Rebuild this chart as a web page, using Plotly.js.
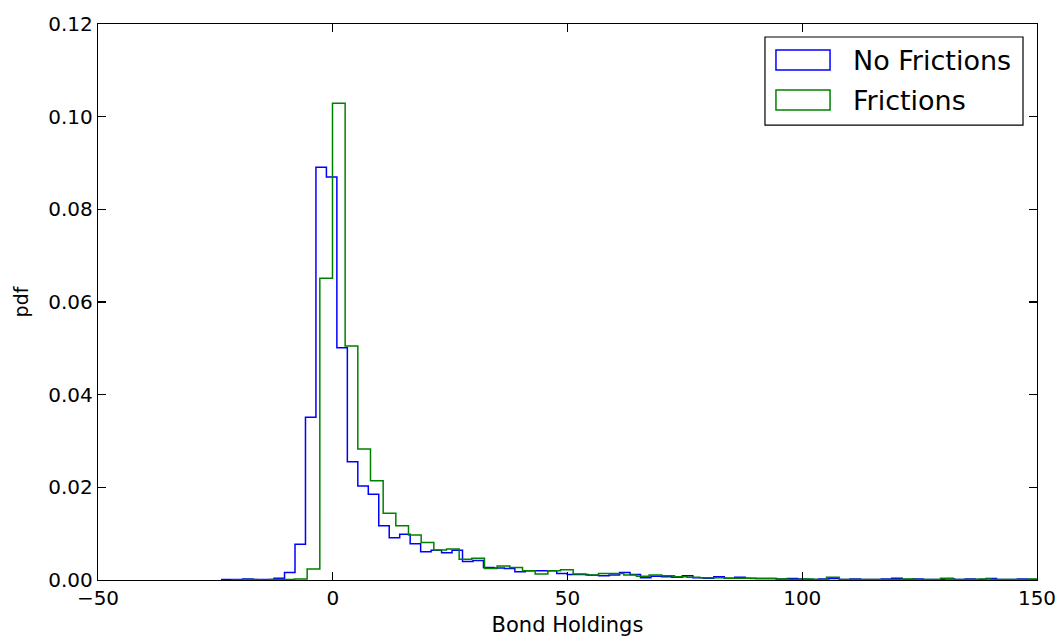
<!DOCTYPE html>
<html>
<head>
<meta charset="utf-8">
<script src="https://cdn.plot.ly/plotly-3.0.1.min.js"></script>
<style>
  html, body { margin: 0; padding: 0; background: #fff; }
  #chart { width: 1062px; height: 642px; }
</style>
</head>
<body>
<div id="chart"></div>
<script>
// Histogram bins (density) of bond holdings, without and with frictions.
const noFrictionsStart = -23.65;
const noFrictionsWidth = 2.23;
const noFrictionsDensity = [
  0.0001, 0.0001, 0.0002, 0.0001, 0.0001, 0.0004, 0.0016, 0.0077, 0.0351, 0.0891,
  0.0870, 0.0501, 0.0255, 0.0203, 0.0185, 0.0117, 0.0091, 0.0099, 0.0078, 0.0061,
  0.0064, 0.0059, 0.0064, 0.0040, 0.0042, 0.0027, 0.0026, 0.0025, 0.0018, 0.0020,
  0.0020, 0.0020, 0.0014, 0.0012, 0.0012, 0.0010, 0.0009, 0.0011, 0.0016, 0.0012,
  0.0005, 0.0008, 0.0007, 0.0006, 0.0009, 0.0005, 0.0004, 0.0007, 0.0004, 0.0006,
  0.0004, 0.0003, 0.0003, 0.0002, 0.0003, 0.0002, 0.0001, 0.0002, 0.0003, 0.0001,
  0.0002, 0.0001, 0.0001, 0.0002, 0.0004, 0.0001, 0.0002, 0.0001, 0.0001, 0.0002,
  0.0001, 0.0002, 0.0001, 0.0003, 0.0001, 0.0001, 0.0002, 0.0001
];

const frictionsStart = -21.64;
const frictionsWidth = 2.698;
const frictionsDensity = [
  0.0000, 0.0001, 0.0000, 0.0001, 0.0001, 0.0002, 0.0024, 0.0651, 0.1029, 0.0505,
  0.0283, 0.0214, 0.0144, 0.0117, 0.0097, 0.0081, 0.0065, 0.0067, 0.0045, 0.0047,
  0.0025, 0.0030, 0.0027, 0.0020, 0.0013, 0.0020, 0.0022, 0.0013, 0.0011, 0.0014,
  0.0014, 0.0011, 0.0008, 0.0011, 0.0009, 0.0007, 0.0006, 0.0005, 0.0005, 0.0004,
  0.0004, 0.0003, 0.0003, 0.0002, 0.0001, 0.0002, 0.0001, 0.0006, 0.0001, 0.0001,
  0.0001, 0.0001, 0.0001, 0.0002, 0.0001, 0.0001, 0.0004, 0.0001, 0.0001, 0.0002,
  0.0001, 0.0001, 0.0001, 0.0002
];

const seriesNames = ['No Frictions', 'Frictions'];
const seriesColors = ['#0000ff', '#008000'];
const xTicks = [-50, 0, 50, 100, 150];
const yTicks = [0, 0.02, 0.04, 0.06, 0.08, 0.10, 0.12];

// Build a step outline (histtype="step") from bin edges and densities.
function stepOutline(start, width, density) {
  const x = [start];
  const y = [0];
  density.forEach((d, k) => { x.push(start + k * width); y.push(d); });
  x.push(start + density.length * width);
  y.push(0);
  return { x, y };
}

const a = stepOutline(noFrictionsStart, noFrictionsWidth, noFrictionsDensity);
const b = stepOutline(frictionsStart, frictionsWidth, frictionsDensity);

const traces = [
  { x: a.x, y: a.y, type: 'scatter', mode: 'lines', name: seriesNames[0],
    line: { shape: 'hv', color: seriesColors[0], width: 1.5 }, showlegend: false, hoverinfo: 'skip' },
  { x: b.x, y: b.y, type: 'scatter', mode: 'lines', name: seriesNames[1],
    line: { shape: 'hv', color: seriesColors[1], width: 1.5 }, showlegend: false, hoverinfo: 'skip' }
];

const FONT = 'DejaVu Sans, sans-serif';

// Legend box drawn in paper coordinates with outlined patches.
const legendBox = { x0: 0.7103, x1: 0.9851, y0: 0.8183, y1: 0.9766 };
const patchX = [0.7220, 0.7796];
const patchRows = [[0.9173, 0.9532], [0.8453, 0.8813]];

const shapes = [
  { type: 'rect', xref: 'paper', yref: 'paper',
    x0: legendBox.x0, x1: legendBox.x1, y0: legendBox.y0, y1: legendBox.y1,
    line: { color: '#000', width: 1.2 }, fillcolor: '#fff', layer: 'above' }
];
const annotations = [];
patchRows.forEach((r, i) => {
  shapes.push({ type: 'rect', xref: 'paper', yref: 'paper',
    x0: patchX[0], x1: patchX[1], y0: r[0], y1: r[1],
    line: { color: seriesColors[i], width: 1.5 }, fillcolor: 'rgba(0,0,0,0)', layer: 'above' });
  annotations.push({ xref: 'paper', yref: 'paper', x: 0.8020, y: (r[0] + r[1]) / 2,
    xanchor: 'left', yanchor: 'middle', showarrow: false, text: seriesNames[i],
    font: { family: FONT, size: 27, color: '#000' } });
});

const layout = {
  width: 1062, height: 642,
  margin: { l: 98, r: 25, t: 24, b: 62 },
  paper_bgcolor: '#fff', plot_bgcolor: '#fff',
  font: { family: FONT, color: '#000', size: 20 },
  showlegend: false,
  xaxis: {
    range: [-50, 150], tickvals: xTicks, ticks: 'inside', ticklen: 8, tickwidth: 1.2,
    tickcolor: '#000', showline: true, linecolor: '#000', linewidth: 1.2, mirror: 'allticks',
    showgrid: false, zeroline: false, tickfont: { family: FONT, size: 20 },
    title: { text: 'Bond Holdings', font: { family: FONT, size: 21 }, standoff: 8 }
  },
  yaxis: {
    range: [0, 0.12], tickvals: yTicks, tickformat: '.2f', ticks: 'inside', ticklen: 8, tickwidth: 1.2,
    tickcolor: '#000', showline: true, linecolor: '#000', linewidth: 1.2, mirror: 'allticks',
    showgrid: false, zeroline: false, tickfont: { family: FONT, size: 20 },
    title: { text: 'pdf', font: { family: FONT, size: 19 }, standoff: 14 }
  },
  shapes, annotations
};

Plotly.newPlot('chart', traces, layout, { staticPlot: true, displayModeBar: false });
</script>
</body>
</html>
